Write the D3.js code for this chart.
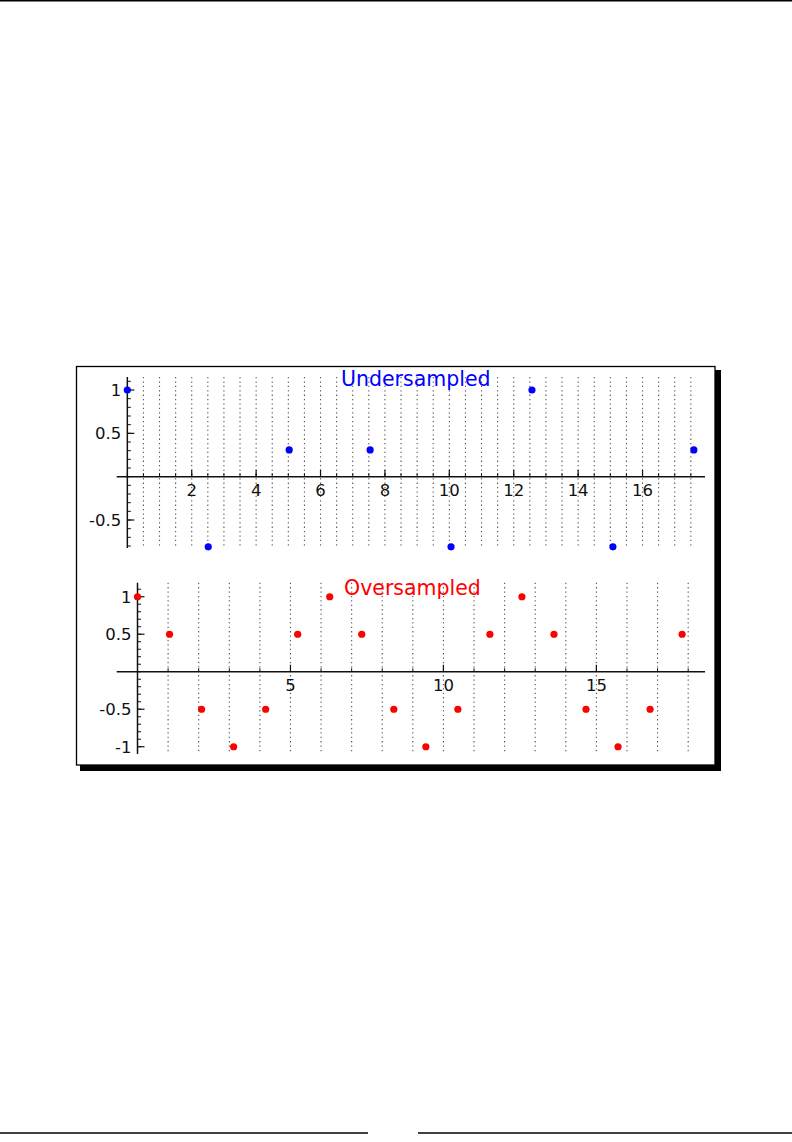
<!DOCTYPE html>
<html>
<head>
<meta charset="utf-8">
<script src="https://cdn.jsdelivr.net/npm/d3@7"></script>
<style>
  body { margin: 0; background: #fff; }
  text { font-family: "DejaVu Sans", sans-serif; }
</style>
</head>
<body>
<div id="chart"></div>
<script>
// samples of cos(x): step 4pi/5 (under) and pi/3 (over)
var underX = [0, 2.513, 5.027, 7.540, 10.053, 12.566, 15.080, 17.593];
var underY = [1, -0.809, 0.309, 0.309, -0.809, 1, -0.809, 0.309];

var overX = [0, 1.047, 2.094, 3.142, 4.189, 5.236, 6.283, 7.330, 8.378,
             9.425, 10.472, 11.519, 12.566, 13.614, 14.661, 15.708, 16.755, 17.802];
var overY = [1, 0.5, -0.5, -1, -0.5, 0.5, 1, 0.5, -0.5,
             -1, -0.5, 0.5, 1, 0.5, -0.5, -1, -0.5, 0.5];

// tick labels
var underXTicks = [2, 4, 6, 8, 10, 12, 14, 16];
var underYTicks = [1, 0.5, -0.5];
var overXTicks = [5, 10, 15];
var overYTicks = [1, 0.5, -0.5, -1];

var W = 792, H = 1142;

var svg = d3.select("#chart").append("svg")
    .attr("width", W)
    .attr("height", H);

// page rules
svg.append("line")
    .attr("x1", 0).attr("x2", W).attr("y1", 0.75).attr("y2", 0.75)
    .attr("stroke", "#000").attr("stroke-width", 1.5);
svg.append("line")
    .attr("x1", 0).attr("x2", 368).attr("y1", 1133).attr("y2", 1133)
    .attr("stroke", "#000").attr("stroke-width", 1.3);
svg.append("line")
    .attr("x1", 418).attr("x2", W).attr("y1", 1133).attr("y2", 1133)
    .attr("stroke", "#000").attr("stroke-width", 1.3);

// framed figure with drop shadow
svg.append("rect")
    .attr("x", 80).attr("y", 370).attr("width", 641).attr("height", 401)
    .attr("fill", "#000");
svg.append("rect")
    .attr("x", 76.5).attr("y", 366.5).attr("width", 638.5).attr("height", 398.5)
    .attr("fill", "#fff").attr("stroke", "#000").attr("stroke-width", 1.3);

function fmt(v) { return v < 0 ? "-" + Math.abs(v) : "" + v; }

function panel(cfg) {
  var x = d3.scaleLinear().domain(cfg.xDomain).range([116.7, 705]);
  var y = d3.scaleLinear().domain(cfg.yDomain).range(cfg.yRange);
  var g = svg.append("g");

  var gridVals = d3.range(cfg.gridStep, cfg.gridMax + 1e-6, cfg.gridStep);
  var xMinor = d3.range(0, cfg.gridMax + 1e-6, cfg.gridStep);
  var yMinor = d3.range(cfg.yMinorMin, cfg.yMinorMax + 1e-6, 0.1);

  // dotted vertical grid
  g.selectAll(".grid").data(gridVals).enter().append("line")
      .attr("x1", function(d) { return x(d); })
      .attr("x2", function(d) { return x(d); })
      .attr("y1", cfg.yRange[0])
      .attr("y2", cfg.yRange[1])
      .attr("stroke", "#555")
      .attr("stroke-width", 1.1)
      .attr("stroke-dasharray", "1.3,3.1");

  // axes lines
  g.append("line")
      .attr("x1", x.range()[0]).attr("x2", x.range()[1])
      .attr("y1", y(0)).attr("y2", y(0))
      .attr("stroke", "#111").attr("stroke-width", 1.5);
  g.append("line")
      .attr("x1", x(0)).attr("x2", x(0))
      .attr("y1", cfg.yRange[0]).attr("y2", cfg.yRange[1])
      .attr("stroke", "#111").attr("stroke-width", 1.5);

  // x ticks (pointing up)
  g.selectAll(".xminor").data(xMinor).enter().append("line")
      .attr("x1", function(d) { return x(d); })
      .attr("x2", function(d) { return x(d); })
      .attr("y1", y(0)).attr("y2", y(0) - 3.5)
      .attr("stroke", "#111").attr("stroke-width", 1);
  g.selectAll(".xmajor").data(cfg.xTicks).enter().append("line")
      .attr("x1", function(d) { return x(d); })
      .attr("x2", function(d) { return x(d); })
      .attr("y1", y(0)).attr("y2", y(0) - 7)
      .attr("stroke", "#111").attr("stroke-width", 1.2);
  g.selectAll(".xlab").data(cfg.xTicks).enter().append("text")
      .attr("x", function(d) { return x(d); })
      .attr("y", y(0) + 19.5)
      .attr("text-anchor", "middle")
      .attr("font-size", "16.5px")
      .attr("fill", "#111")
      .text(fmt);

  // y ticks (pointing right)
  g.selectAll(".yminor").data(yMinor).enter().append("line")
      .attr("x1", x(0)).attr("x2", x(0) + 3.5)
      .attr("y1", function(d) { return y(d); })
      .attr("y2", function(d) { return y(d); })
      .attr("stroke", "#111").attr("stroke-width", 1);
  g.selectAll(".ymajor").data(cfg.yTicks).enter().append("line")
      .attr("x1", x(0)).attr("x2", x(0) + 7)
      .attr("y1", function(d) { return y(d); })
      .attr("y2", function(d) { return y(d); })
      .attr("stroke", "#111").attr("stroke-width", 1.2);
  g.selectAll(".ylab").data(cfg.yTicks).enter().append("text")
      .attr("x", x(0) - 6)
      .attr("y", function(d) { return y(d); })
      .attr("dy", "0.36em")
      .attr("text-anchor", "end")
      .attr("font-size", "16.5px")
      .attr("fill", "#111")
      .text(fmt);

  // sample points
  g.selectAll(".pt").data(cfg.xs).enter().append("circle")
      .attr("cx", function(d) { return x(d); })
      .attr("cy", function(d, i) { return y(cfg.ys[i]); })
      .attr("r", 3.6)
      .attr("fill", cfg.color);

  g.append("text")
      .attr("x", cfg.titleX)
      .attr("y", cfg.titleY)
      .attr("font-size", "20.5px")
      .attr("fill", cfg.color)
      .text(cfg.title);
}

panel({
  xs: underX, ys: underY, color: "#0000ff", title: "Undersampled",
  titleX: 341, titleY: 386,
  xDomain: [-0.33, 17.94], yDomain: [1.15, -0.823], yRange: [377, 548],
  gridStep: 0.5, gridMax: 17.5, yMinorMin: -0.8, yMinorMax: 1.1,
  xTicks: underXTicks, yTicks: underYTicks
});

panel({
  xs: overX, ys: overY, color: "#ff0000", title: "Oversampled",
  titleX: 344, titleY: 595.3,
  xDomain: [-0.68, 18.55], yDomain: [1.187, -1.097], yRange: [582.7, 754],
  gridStep: 1, gridMax: 18, yMinorMin: -1.0, yMinorMax: 1.1,
  xTicks: overXTicks, yTicks: overYTicks
});
</script>
</body>
</html>
